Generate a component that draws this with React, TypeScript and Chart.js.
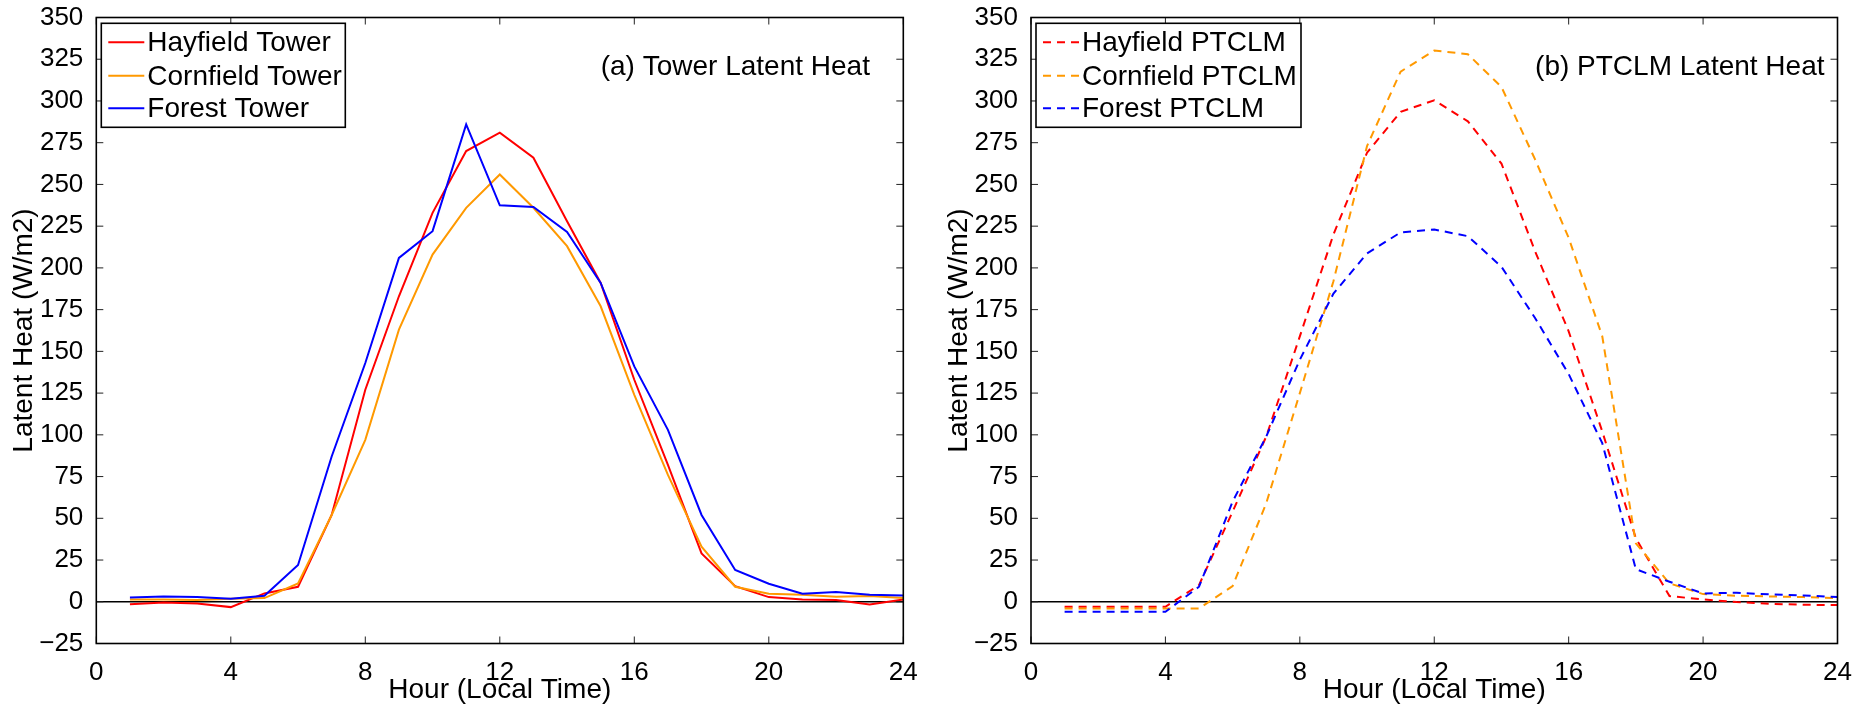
import React, { useEffect, useRef } from "react";
import { Chart, registerables } from "chart.js";

Chart.register(...registerables);

// ---------- data ----------
const hours = [1, 2, 3, 4, 5, 6, 7, 8, 9, 10, 11, 12, 13, 14, 15, 16, 17, 18, 19, 20, 21, 22, 23, 24];

const hayfieldTower = [-1.5, -0.5, -1, -3.2, 5, 9, 52, 127, 183, 233, 270, 281, 266, 228, 191, 133, 82, 29, 9.3, 2.8, 1.4, 1, -1.6, 1.4];
const cornfieldTower = [1.4, 1.4, 1, 1.8, 2.2, 11, 52, 97, 163, 208, 236, 256, 236, 213, 177, 124, 76, 33, 9, 4.8, 4.2, 3, 3.5, 2.2];
const forestTower = [2.6, 3.2, 2.8, 1.8, 3.6, 22, 87, 143, 206, 222, 286, 237.5, 236.5, 221.5, 191, 141, 103, 52, 19, 10.8, 4.8, 5.8, 4.2, 3.7];

const hayfieldPTCLM = [-3, -3, -3, -3, 10, 54, 99, 159, 220, 269, 293.5, 300.4, 287.8, 262.5, 210, 162, 102, 38, 3.4, 1.4, -0.2, -1.2, -1.8, -2];
const cornfieldPTCLM = [-4, -4, -4, -4, -4, 9.4, 59, 125, 192, 273, 317.6, 330.2, 328, 308.4, 265, 218, 159, 35, 11, 4.6, 3.6, 3.2, 2.8, 2.2];
const forestPTCLM = [-6, -6, -6, -6, 9, 60, 99, 145, 184.6, 208.7, 221.3, 223, 219, 200.7, 170, 136.4, 95, 19.5, 12, 5, 5.4, 4.4, 3.8, 2.8];

const xMin = 0;
const xMax = 24;
const xStep = 4;
const yMin = -25;
const yMax = 350;
const yStep = 25;

const leftLabels = ["Hayfield Tower", "Cornfield Tower", "Forest Tower"];
const rightLabels = ["Hayfield PTCLM", "Cornfield PTCLM", "Forest PTCLM"];
const seriesColors = ["#ff0000", "#ff9900", "#0000ff"];

const xTitle = "Hour (Local Time)";
const yTitle = "Latent Heat (W/m2)";
const leftPanelTitle = "(a) Tower Latent Heat";
const rightPanelTitle = "(b) PTCLM Latent Heat";
const panelTitleX = 15;
const panelTitleY = 320;

// ---------- styling ----------
const FONT = '"Liberation Sans", Arial, Helvetica, sans-serif';
const H = 707;

const toPoints = (ys: number[]) => hours.map((h, i) => ({ x: h, y: ys[i] }));

const framePlugin = {
  id: "frame",
  beforeDatasetsDraw(chart: any) {
    const { ctx, chartArea: a, scales } = chart;
    const y0 = scales.y.getPixelForValue(0);
    ctx.save();
    ctx.strokeStyle = "#000";
    ctx.lineWidth = 1.3;
    ctx.beginPath();
    ctx.moveTo(a.left, y0);
    ctx.lineTo(a.right, y0);
    ctx.stroke();
    ctx.restore();
  },
  afterDatasetsDraw(chart: any, _args: any, opts: any) {
    const { ctx, chartArea: a, scales } = chart;
    const xs = scales.x;
    const ys = scales.y;
    ctx.save();
    // inward ticks
    ctx.strokeStyle = "#222";
    ctx.lineWidth = 1;
    const tl = 7;
    ctx.beginPath();
    xs.ticks.forEach((t: any) => {
      const px = xs.getPixelForValue(t.value);
      ctx.moveTo(px, a.bottom);
      ctx.lineTo(px, a.bottom - tl);
      ctx.moveTo(px, a.top);
      ctx.lineTo(px, a.top + tl);
    });
    ys.ticks.forEach((t: any) => {
      const py = ys.getPixelForValue(t.value);
      ctx.moveTo(a.left, py);
      ctx.lineTo(a.left + tl, py);
      ctx.moveTo(a.right, py);
      ctx.lineTo(a.right - tl, py);
    });
    ctx.stroke();
    // box
    ctx.strokeStyle = "#000";
    ctx.lineWidth = 1.6;
    ctx.strokeRect(a.left, a.top, a.right - a.left, a.bottom - a.top);

    // panel title
    ctx.fillStyle = "#000";
    ctx.font = `28px ${FONT}`;
    ctx.textAlign = "left";
    ctx.textBaseline = "middle";
    ctx.fillText(opts.title, xs.getPixelForValue(panelTitleX), ys.getPixelForValue(panelTitleY));

    // legend
    const bx = a.left + 5;
    const by = a.top + 5.8;
    const bw = opts.legendWidth;
    const bh = 104;
    ctx.fillStyle = "#fff";
    ctx.fillRect(bx, by, bw, bh);
    const rows = [19, 52.5, 85];
    chart.data.datasets.forEach((ds: any, i: number) => {
      const ry = by + rows[i];
      ctx.strokeStyle = ds.borderColor;
      ctx.lineWidth = 2;
      ctx.setLineDash(ds.borderDash || []);
      ctx.beginPath();
      ctx.moveTo(bx + 7, ry);
      ctx.lineTo(bx + 43, ry);
      ctx.stroke();
      ctx.setLineDash([]);
      ctx.fillStyle = "#000";
      ctx.font = `28px ${FONT}`;
      ctx.textAlign = "left";
      ctx.textBaseline = "middle";
      ctx.fillText(ds.label, bx + 46, ry + 1);
    });
    ctx.strokeStyle = "#000";
    ctx.lineWidth = 1.6;
    ctx.strokeRect(bx, by, bw, bh);
    ctx.restore();
  },
};

function makeConfig(
  labels: string[],
  series: number[][],
  dashed: boolean,
  yAxisWidth: number,
  rightPad: number,
  yTitlePad: number,
  title: string,
  legendWidth: number
): any {
  const orders = [3, 2, 1];
  return {
    type: "line",
    data: {
      datasets: series.map((s, i) => ({
        label: labels[i],
        data: toPoints(s),
        borderColor: seriesColors[i],
        backgroundColor: seriesColors[i],
        borderWidth: 2,
        borderDash: dashed ? [8, 6] : [],
        pointRadius: 0,
        tension: 0,
        fill: false,
        order: orders[i],
      })),
    },
    options: {
      animation: false,
      responsive: false,
      devicePixelRatio: 1,
      layout: { padding: { left: 0, right: rightPad, top: 17.5, bottom: 0 } },
      plugins: {
        legend: { display: false },
        tooltip: { enabled: false },
        frame: { title, legendWidth },
      },
      scales: {
        x: {
          type: "linear",
          min: xMin,
          max: xMax,
          grid: { display: false },
          border: { display: false },
          ticks: {
            stepSize: xStep,
            padding: 5.9,
            color: "#000",
            font: { family: FONT, size: 26 },
            maxRotation: 0,
            autoSkip: false,
          },
          title: {
            display: true,
            text: xTitle,
            color: "#000",
            font: { family: FONT, size: 28 },
            padding: { top: 0, bottom: 0.2 },
          },
          afterFit: (s: any) => {
            s.height = 63.5;
            s.paddingLeft = 0;
            s.paddingRight = 0;
          },
        },
        y: {
          type: "linear",
          min: yMin,
          max: yMax,
          grid: { display: false },
          border: { display: false },
          ticks: {
            stepSize: yStep,
            padding: 5,
            color: "#000",
            font: { family: FONT, size: 26 },
            autoSkip: false,
            callback: (v: any) => String(v).replace("-", "\u2212"),
          },
          title: {
            display: true,
            text: yTitle,
            color: "#000",
            font: { family: FONT, size: 28 },
            padding: { top: yTitlePad, bottom: 0 },
          },
          afterFit: (s: any) => {
            s.width = yAxisWidth;
            s.paddingTop = 0;
            s.paddingBottom = 0;
          },
        },
      },
    },
    plugins: [framePlugin],
  };
}

function Panel(props: { left: number; width: number; config: any }) {
  const ref = useRef<HTMLCanvasElement | null>(null);
  useEffect(() => {
    if (!ref.current) return;
    const chart = new Chart(ref.current, props.config);
    return () => chart.destroy();
  }, []);
  return (
    <canvas
      ref={ref}
      width={props.width}
      height={H}
      style={{ position: "absolute", left: props.left, top: 0, width: props.width, height: H }}
    />
  );
}

export default function App() {
  const leftCfg = makeConfig(
    leftLabels,
    [hayfieldTower, cornfieldTower, forestTower],
    false,
    96.3,
    936 - 903.3,
    7.2,
    leftPanelTitle,
    244
  );
  const rightCfg = makeConfig(
    rightLabels,
    [hayfieldPTCLM, cornfieldPTCLM, forestPTCLM],
    true,
    1031 - 936,
    920 - (1837.5 - 936),
    6.2,
    rightPanelTitle,
    265
  );
  return (
    <div style={{ position: "absolute", left: 0, top: 0, width: 1856, height: H, background: "#fff" }}>
      <Panel left={0} width={936} config={leftCfg} />
      <Panel left={936} width={920} config={rightCfg} />
    </div>
  );
}
